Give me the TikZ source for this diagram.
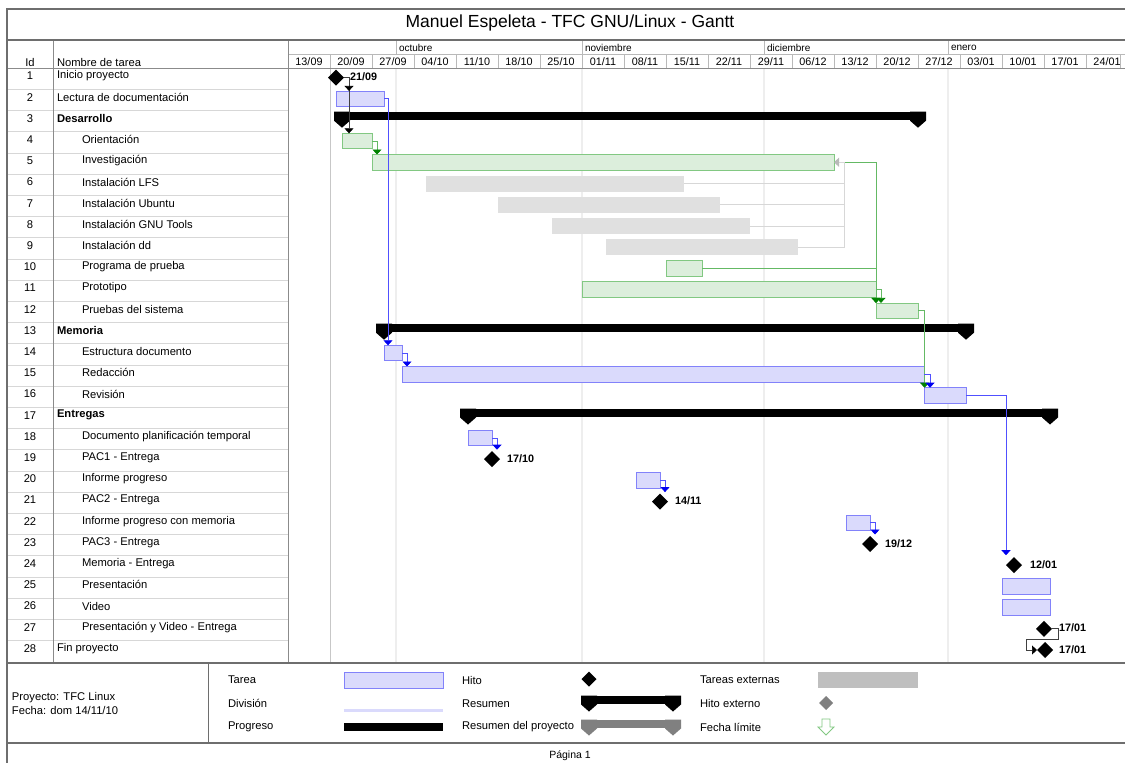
\documentclass[tikz,border=0pt]{standalone}
\usepackage{fontspec}
\setmainfont{Liberation Sans}
\usetikzlibrary{shapes.geometric,arrows.meta,calc}
\definecolor{tfill}{RGB}{218,218,252}
\definecolor{tline}{RGB}{130,130,250}
\definecolor{gfill}{RGB}{220,238,220}
\definecolor{gline}{RGB}{130,200,130}
\definecolor{xfill}{RGB}{224,224,224}
\definecolor{cblue}{RGB}{80,80,255}
\definecolor{ablue}{RGB}{0,0,240}
\definecolor{cgreen}{RGB}{100,185,100}
\definecolor{agreen}{RGB}{0,130,0}
\definecolor{cgray}{RGB}{215,215,215}
\definecolor{agray}{RGB}{185,185,185}
\definecolor{frm}{RGB}{110,110,110}
\definecolor{grd}{RGB}{185,185,185}
\definecolor{rowl}{RGB}{215,215,215}
\definecolor{monthl}{RGB}{238,238,238}
\newcommand\RT[1]{(68+21.2*(#1-1))}
\newcommand\gtask[5]{\node[#2, minimum width={#4-#3}, anchor=north west] (#1) at (#3,{\RT{#5}+1.7}) {};}
\newcommand\gms[3]{\node[ms] (#1) at (#2,{\RT{#3}+9.6}) {};}
\newcommand\sumshape[5]{%
  \node[fill=#5, minimum height=8.5, minimum width={#3-#2}, anchor=north west] (#1) at (#2,#4) {};
  \fill[#5] (#1.north west) -- ++(16,0) -- ++(0,9) -- ++(-8,7) -- ++(-8,-7) -- cycle;
  \fill[#5] (#1.north east) -- ++(-16,0) -- ++(0,9) -- ++(8,7) -- ++(8,-7) -- cycle;}
\tikzset{
  every node/.style={inner sep=0pt, outer sep=0pt},
  tblue/.style={fill=tfill, draw=tline, line width=0.8pt, minimum height=15.5},
  tgreen/.style={fill=gfill, draw=gline, line width=0.8pt, minimum height=15.5},
  xtask/.style={fill=xfill, minimum height=16},
  ms/.style={diamond, fill=black, minimum width=16, minimum height=16},
  mlab/.style={anchor=west, font=\fontsize{10.8}{12}\selectfont\bfseries},
  cb/.style={cblue, line width=0.7pt, -{Triangle[width=9pt,length=5pt,color=ablue]}},
  cg/.style={cgreen, line width=0.7pt, -{Triangle[width=9pt,length=5pt,color=agreen]}},
  cy/.style={cgray, line width=0.9pt},
  ck/.style={black!75, line width=0.7pt, -{Triangle[width=9pt,length=5pt,color=black]}},
  txt/.style={anchor=west},
}
\begin{document}
\begin{tikzpicture}[x=1pt, y=-1pt, font=\fontsize{11.2}{13}\selectfont]
\useasboundingbox (0,0) rectangle (1125,763);
\fill[white] (0,0) rectangle (1125,763);
% ---------- chart background lines
\draw[monthl, line width=1.5pt] (396,68) -- (396,663) (582,68) -- (582,663) (764,68) -- (764,663) (948,68) -- (948,663);
\draw[black!22, line width=0.9pt] (330,68) -- (330,663);
% ---------- table row lines
\foreach \k in {1,...,27} \draw[rowl, line width=0.6pt] (7,{68+21.2*\k}) -- (288,{68+21.2*\k});
% ---------- header grid
\draw[grd, line width=0.7pt] (288,54) -- (1126,54);
\foreach \x in {288,396,582,764,948} \draw[grd, line width=0.7pt] (\x,40) -- (\x,54);
\foreach \k in {0,...,19} \draw[grd, line width=0.7pt] ({288+42*\k},54) -- ({288+42*\k},68);
\draw[grd, line width=0.7pt] (1120,54) -- (1120,68);
\draw[frm!80, line width=0.9pt] (7,68) -- (1126,68);
\draw[frm!80, line width=0.9pt] (53,40) -- (53,663) (288,40) -- (288,663);
% ---------- frame
\draw[frm, line width=1.2pt] (1126,9) -- (7,9) -- (7,764);
\draw[frm, line width=1.2pt] (7,40) -- (1126,40) (7,663) -- (1126,663) (7,743) -- (1126,743);
\draw[frm, line width=1pt] (208,663) -- (208,743);
% ---------- title and header text
\node (title) at (570,23) {\fontsize{17.5}{20}\selectfont Manuel Espeleta - TFC GNU/Linux - Gantt};
\node (hid) at (30,62) {Id};
\node[txt] (hname) at (57,62) {Nombre de tarea};
\foreach \x/\m in {396/octubre,582/noviembre,764/diciembre,948/enero}
  \node[anchor=west, font=\fontsize{10}{11}\selectfont] at (\x+3,47.5) {\m};
\foreach \w [count=\k from 0] in {13/09,20/09,27/09,04/10,11/10,18/10,25/10,01/11,08/11,15/11,22/11,29/11,06/12,13/12,20/12,27/12,03/01,10/01,17/01,24/01}
  \node[font=\fontsize{10.8}{12}\selectfont] at ({288+42*\k+21},61.8) {\w};
% ---------- task names
\foreach \i/\ind/\t in {1/0/Inicio proyecto, 2/0/Lectura de documentación, 3/0/{\bfseries Desarrollo},
  4/25/Orientación, 5/25/Investigación, 6/25/Instalación LFS, 7/25/Instalación Ubuntu,
  8/25/Instalación GNU Tools, 9/25/Instalación dd, 10/25/Programa de prueba, 11/25/Prototipo,
  12/25/Pruebas del sistema, 13/0/{\bfseries Memoria}, 14/25/Estructura documento, 15/25/Redacción,
  16/25/Revisión, 17/0/{\bfseries Entregas}, 18/25/Documento planificación temporal, 19/25/PAC1 - Entrega,
  20/25/Informe progreso, 21/25/PAC2 - Entrega, 22/25/Informe progreso con memoria, 23/25/PAC3 - Entrega,
  24/25/Memoria - Entrega, 25/25/Presentación, 26/25/Video, 27/25/Presentación y Video - Entrega, 28/0/Fin proyecto}
{
  \node at (30,{\RT{\i}+8}) {\i};
  \node[txt] at ({57+\ind},{\RT{\i}+8}) {\t};
}
% ---------- bars
\gtask{t2}{tblue}{336}{384}{2}
\gtask{t4}{tgreen}{342}{372}{4}
\gtask{t5}{tgreen}{372}{834}{5}
\gtask{t6}{xtask}{426}{684}{6}
\gtask{t7}{xtask}{498}{720}{7}
\gtask{t8}{xtask}{552}{750}{8}
\gtask{t9}{xtask}{606}{798}{9}
\gtask{t10}{tgreen}{666}{702}{10}
\gtask{t11}{tgreen}{582}{876}{11}
\gtask{t12}{tgreen}{876}{918}{12}
\gtask{t14}{tblue}{384}{402}{14}
\gtask{t15}{tblue}{402}{924}{15}
\gtask{t16}{tblue}{924}{966}{16}
\gtask{t18}{tblue}{468}{492}{18}
\gtask{t20}{tblue}{636}{660}{20}
\gtask{t22}{tblue}{846}{870}{22}
\gtask{t25}{tblue}{1002}{1050}{25}
\gtask{t26}{tblue}{1002}{1050}{26}
% ---------- summaries
\sumshape{s3}{334}{926}{{\RT{3}+1.3}}{black}
\sumshape{s13}{376}{974}{{\RT{13}+1.3}}{black}
\sumshape{s17}{460}{1058}{{\RT{17}+1.3}}{black}
% ---------- milestones
\gms{m1}{336}{1}
\gms{m19}{492}{19}
\gms{m21}{660}{21}
\gms{m23}{870}{23}
\gms{m24}{1014}{24}
\gms{m27}{1044}{27}
\gms{m28}{1045}{28}
\node[mlab] at ($(m1.center)+(14,-1)$) {21/09};
\node[mlab] at ($(m19.center)+(15,-0.5)$) {17/10};
\node[mlab] at ($(m21.center)+(15,-0.5)$) {14/11};
\node[mlab] at ($(m23.center)+(15,-0.5)$) {19/12};
\node[mlab] at ($(m24.center)+(16,-0.5)$) {12/01};
\node[mlab] at ($(m27.center)+(15,-1)$) {17/01};
\node[mlab] at ($(m28.center)+(14,-0.5)$) {17/01};
% ---------- connectors
\draw[ck] (m1.east) -| ($(t4.north west)+(7,0)$);
\draw[ck] (m1.east) -| ($(t2.north west)+(13,0)$);
\draw[cb] (t2.east) -| ($(t14.north west)+(4,0)$);
\draw[cg] (t4.east) -| ($(t5.north west)+(5,0)$);
\draw[cg] (t5.east) -| (t12.north west);
\draw[cg] (t10.east) -| (t12.north west);
\draw[cg] (t11.east) -| ($(t12.north west)+(5,0)$);
\coordinate (gj) at ($(t5.east)+(10,0)$);
\draw[cy] (t6.east) -| (gj);
\draw[cy] (t7.east) -| (gj);
\draw[cy] (t8.east) -| (gj);
\draw[cy] (t9.east) -| (gj);
\draw[cy, -{Triangle[width=9pt,length=5pt,color=agray]}] (gj) -- (t5.east);
\draw[cg] (t12.east) -| ($(t16.north west)+(0.5,0)$);
\draw[cb] (t14.east) -| ($(t15.north west)+(5,0)$);
\draw[cb] (t15.east) -| ($(t16.north west)+(6,0)$);
\draw[cb] (t16.east) -| ($(m24.west)+(0,-10)$);
\draw[cb] (t18.east) -| ($(m19.north)+(5,-1.5)$);
\draw[cb] (t20.east) -| ($(m21.north)+(5,-1.5)$);
\draw[cb] (t22.east) -| ($(m23.north)+(5,-1.5)$);
\draw[ck] (m27.east) -- ++(6,0) -- ++(0,10.5) -- ++(-32,0) |- (m28.west);
% ---------- legend
\node[txt] (pj) at (12,698) {Proyecto: TFC Linux};
\node[txt] (fe) at (12,710) {Fecha: dom 14/11/10};
\node[txt] (lg1) at (228,680) {Tarea};
\node[txt] (lg2) at (228,703.5) {División};
\node[txt] (lg3) at (228,727) {Progreso};
\node[tblue, minimum width=99, minimum height=16] (lt1) at (393.5,680) {};
\draw[tfill, line width=3pt] (344,710) coordinate (ld1) -- (443,710) coordinate (ld2);
\node[fill=black, minimum width=99, minimum height=8] (lt3) at (393.5,727) {};
\node[txt] (lh1) at (462,680) {Hito};
\node[txt] (lh2) at (462,703.5) {Resumen};
\node[txt] (lh3) at (462,727) {Resumen del proyecto};
\node[ms, minimum width=15, minimum height=15] (lm1) at (589,679) {};
\sumshape{ls1}{581}{681}{695.5}{black}
\sumshape{ls2}{581}{681}{719.5}{black!50}
\node[txt] (le1) at (700,680) {Tareas externas};
\node[txt] (le2) at (700,703.5) {Hito externo};
\node[txt] (le3) at (700,727) {Fecha límite};
\node[fill=black!25, minimum width=100, minimum height=16] (lx1) at (868,680) {};
\node[diamond, fill=black!50, minimum width=14, minimum height=14] (lx2) at (826,703) {};
\draw[gline, line width=0.8pt] (822,719) -- (830,719) -- (830,727) -- (834,727) -- (826,735) -- (818,727) -- (822,727) -- cycle;
\node (pg) at (570,756) {\fontsize{10.5}{12}\selectfont Página 1};
\end{tikzpicture}
\end{document}
